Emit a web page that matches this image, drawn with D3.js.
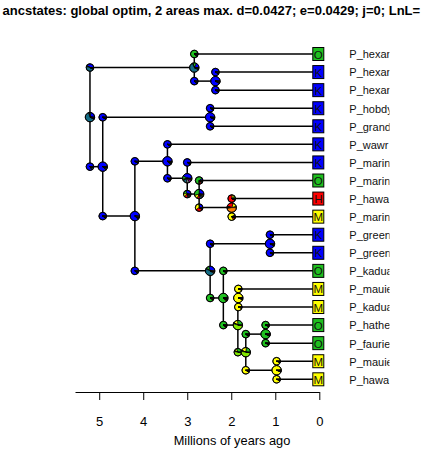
<!DOCTYPE html>
<html>
<head>
<meta charset="utf-8">
<script src="https://cdn.jsdelivr.net/npm/d3@7"></script>
<style>
  body { margin: 0; background: #fff; }
  svg { display: block; font-family: "Liberation Sans", Arial, sans-serif; }
</style>
</head>
<body>
<svg id="chart" width="423" height="459"></svg>
<script>
// tips, top to bottom (names as far as the plot shows them)
var tipNames = ["P_hexar", "P_hexar", "P_hexar", "P_hobdy", "P_grand", "P_wawr", "P_marini", "P_marini", "P_hawa",
    "P_marini", "P_green", "P_green", "P_kadua", "P_mauie", "P_kadua", "P_hathe", "P_faurie", "P_mauie", "P_hawa"];
var tipAreas = ["O", "K", "K", "K", "K", "K", "K", "O", "H", "M", "K", "K", "O", "M", "M", "O", "O", "M", "M"];

// ranges (state order used by the pies) and their colours
var states = ["K", "O", "M", "H", "KO", "KM", "KH", "OM", "OH", "MH"];
var stateColors = ["#0000ff", "#1fbf1f", "#ffff00", "#ff0000", "#146c84", "#808080", "#800080", "#80e600", "#806600", "#ff8000"];

// internal nodes: age in Ma and the two children (tN = tip N)
var nodeIds  = ["A", "C", "D", "B", "E", "F", "G", "H", "I", "J", "K", "L", "M", "N", "O", "P", "Q", "R"];
var nodeAges = [5.21, 2.84, 2.36, 4.92, 2.48, 4.19, 3.45, 3.00, 2.73, 1.99, 2.48, 1.12, 2.18, 1.85, 1.84, 1.67, 1.22, 0.97];
var nodeKids = [["C", "B"], ["t0", "D"], ["t1", "t2"], ["E", "F"], ["t3", "t4"], ["G", "K"], ["t5", "H"], ["t6", "I"],
    ["t7", "J"], ["t8", "t9"], ["L", "M"], ["t10", "t11"], ["t12", "N"], ["O", "P"], ["t13", "t14"], ["Q", "R"],
    ["t15", "t16"], ["t17", "t18"]];

// state probabilities: at the start of the upper child branch, at the node, at the start of the lower child branch
var piesUpper = [
    [0.40, 0.04, 0.01, 0.01, 0.46, 0.02, 0.02, 0.02, 0.01, 0.01],
    [0.06, 0.82, 0.01, 0.01, 0.05, 0.01, 0.01, 0.01, 0.01, 0.01],
    [0.92, 0.01, 0.01, 0.01, 0.02, 0.01, 0.01, 0.005, 0.005, 0.005],
    [0.90, 0.01, 0.01, 0.01, 0.03, 0.01, 0.01, 0.01, 0.005, 0.005],
    [0.92, 0.01, 0.01, 0.01, 0.02, 0.01, 0.01, 0.005, 0.005, 0.005],
    [0.90, 0.01, 0.01, 0.01, 0.03, 0.01, 0.01, 0.01, 0.005, 0.005],
    [0.90, 0.01, 0.01, 0.01, 0.03, 0.01, 0.01, 0.01, 0.005, 0.005],
    [0.88, 0.02, 0.01, 0.01, 0.03, 0.01, 0.01, 0.01, 0.01, 0.01],
    [0.10, 0.64, 0.03, 0.10, 0.05, 0.01, 0.02, 0.02, 0.02, 0.01],
    [0.02, 0.10, 0.12, 0.68, 0.01, 0.01, 0.02, 0.01, 0.01, 0.02],
    [0.88, 0.02, 0.01, 0.01, 0.03, 0.01, 0.01, 0.01, 0.01, 0.01],
    [0.92, 0.01, 0.01, 0.01, 0.02, 0.01, 0.01, 0.005, 0.005, 0.005],
    [0.03, 0.86, 0.02, 0.01, 0.03, 0.01, 0.01, 0.02, 0.005, 0.005],
    [0.01, 0.03, 0.88, 0.01, 0.01, 0.01, 0.01, 0.03, 0.005, 0.005],
    [0.01, 0.02, 0.91, 0.01, 0.01, 0.01, 0.01, 0.01, 0.005, 0.005],
    [0.03, 0.84, 0.03, 0.01, 0.02, 0.01, 0.01, 0.03, 0.01, 0.01],
    [0.02, 0.90, 0.01, 0.01, 0.02, 0.01, 0.01, 0.01, 0.005, 0.005],
    [0.01, 0.02, 0.91, 0.01, 0.01, 0.01, 0.01, 0.01, 0.005, 0.005]
];
var piesNode = [
    [0.22, 0.06, 0.01, 0.01, 0.62, 0.02, 0.02, 0.02, 0.01, 0.01],
    [0.18, 0.12, 0.01, 0.01, 0.60, 0.02, 0.01, 0.03, 0.01, 0.01],
    [0.92, 0.01, 0.01, 0.01, 0.02, 0.01, 0.01, 0.005, 0.005, 0.005],
    [0.88, 0.01, 0.01, 0.01, 0.05, 0.01, 0.01, 0.01, 0.005, 0.005],
    [0.92, 0.01, 0.01, 0.01, 0.02, 0.01, 0.01, 0.005, 0.005, 0.005],
    [0.88, 0.02, 0.01, 0.01, 0.03, 0.01, 0.01, 0.01, 0.01, 0.01],
    [0.88, 0.02, 0.01, 0.01, 0.03, 0.01, 0.01, 0.01, 0.01, 0.01],
    [0.42, 0.12, 0.03, 0.02, 0.12, 0.12, 0.10, 0.03, 0.02, 0.02],
    [0.25, 0.30, 0.14, 0.10, 0.06, 0.04, 0.03, 0.04, 0.02, 0.02],
    [0.02, 0.03, 0.15, 0.26, 0.01, 0.01, 0.02, 0.01, 0.02, 0.47],
    [0.30, 0.10, 0.02, 0.01, 0.48, 0.04, 0.01, 0.02, 0.01, 0.01],
    [0.92, 0.01, 0.01, 0.01, 0.02, 0.01, 0.01, 0.005, 0.005, 0.005],
    [0.04, 0.82, 0.04, 0.01, 0.03, 0.01, 0.01, 0.03, 0.005, 0.005],
    [0.01, 0.25, 0.15, 0.01, 0.01, 0.01, 0.01, 0.53, 0.01, 0.01],
    [0.01, 0.02, 0.91, 0.01, 0.01, 0.01, 0.01, 0.01, 0.005, 0.005],
    [0.01, 0.22, 0.20, 0.01, 0.01, 0.01, 0.01, 0.51, 0.01, 0.01],
    [0.02, 0.90, 0.01, 0.01, 0.02, 0.01, 0.01, 0.01, 0.005, 0.005],
    [0.01, 0.02, 0.91, 0.01, 0.01, 0.01, 0.01, 0.01, 0.005, 0.005]
];
var piesLower = [
    [0.84, 0.01, 0.01, 0.01, 0.08, 0.01, 0.01, 0.01, 0.01, 0.01],
    [0.88, 0.01, 0.01, 0.01, 0.05, 0.01, 0.01, 0.01, 0.005, 0.005],
    [0.92, 0.01, 0.01, 0.01, 0.02, 0.01, 0.01, 0.005, 0.005, 0.005],
    [0.90, 0.01, 0.01, 0.01, 0.03, 0.01, 0.01, 0.01, 0.005, 0.005],
    [0.92, 0.01, 0.01, 0.01, 0.02, 0.01, 0.01, 0.005, 0.005, 0.005],
    [0.88, 0.02, 0.01, 0.01, 0.03, 0.01, 0.01, 0.01, 0.01, 0.01],
    [0.88, 0.02, 0.01, 0.01, 0.03, 0.01, 0.01, 0.01, 0.01, 0.01],
    [0.32, 0.16, 0.15, 0.15, 0.05, 0.06, 0.04, 0.03, 0.02, 0.02],
    [0.22, 0.05, 0.33, 0.30, 0.02, 0.02, 0.02, 0.01, 0.01, 0.02],
    [0.08, 0.02, 0.74, 0.10, 0.01, 0.01, 0.01, 0.01, 0.01, 0.01],
    [0.05, 0.84, 0.03, 0.01, 0.02, 0.01, 0.01, 0.01, 0.01, 0.01],
    [0.92, 0.01, 0.01, 0.01, 0.02, 0.01, 0.01, 0.005, 0.005, 0.005],
    [0.03, 0.84, 0.04, 0.01, 0.02, 0.01, 0.01, 0.02, 0.01, 0.01],
    [0.01, 0.30, 0.12, 0.01, 0.01, 0.01, 0.01, 0.51, 0.01, 0.01],
    [0.01, 0.02, 0.91, 0.01, 0.01, 0.01, 0.01, 0.01, 0.005, 0.005],
    [0.01, 0.03, 0.88, 0.01, 0.01, 0.01, 0.01, 0.03, 0.005, 0.005],
    [0.02, 0.90, 0.01, 0.01, 0.02, 0.01, 0.01, 0.01, 0.005, 0.005],
    [0.01, 0.02, 0.91, 0.01, 0.01, 0.01, 0.01, 0.01, 0.005, 0.005]
];

var xTicks = [5, 4, 3, 2, 1, 0];
var titleText = "ancstates: global optim, 2 areas max. d=0.0427; e=0.0429; j=0; LnL=";
var xLabel = "Millions of years ago";

var svg = d3.select("#chart");

var x = d3.scaleLinear().domain([5.55, 0]).range([75, 319.3]);
var yTip = d3.scaleLinear().domain([0, tipNames.length - 1]).range([54, 379.3]);
var color = d3.scaleOrdinal().domain(states).range(stateColors);

// positions of every node (tips + internal), node y = mean of children
var pos = {};
tipNames.forEach(function (n, i) { pos["t" + i] = {x: x(0), y: yTip(i)}; });
var idx = {};
nodeIds.forEach(function (id, i) { idx[id] = i; });
function place(id) {
    if (pos[id]) return pos[id];
    var i = idx[id];
    var a = place(nodeKids[i][0]), b = place(nodeKids[i][1]);
    pos[id] = {x: x(nodeAges[i]), y: (a.y + b.y) / 2};
    return pos[id];
}
place("A");

// title
svg.append("text")
    .attr("x", 2.5).attr("y", 15)
    .attr("font-size", "13px").attr("font-weight", "bold")
    .attr("fill", "#000")
    .text(titleText);

// branches
var edges = svg.append("g").attr("stroke", "#000").attr("stroke-width", 1.5).attr("fill", "none");
nodeIds.forEach(function (id, i) {
    var p = pos[id], a = pos[nodeKids[i][0]], b = pos[nodeKids[i][1]];
    edges.append("line").attr("x1", p.x).attr("x2", p.x).attr("y1", a.y).attr("y2", b.y);
    [a, b].forEach(function (c) {
        edges.append("line").attr("x1", p.x).attr("x2", c.x).attr("y1", c.y).attr("y2", c.y);
    });
});

// tip range boxes
var boxes = svg.append("g");
tipAreas.forEach(function (a, i) {
    var p = pos["t" + i];
    boxes.append("rect")
        .attr("x", p.x - 6.5).attr("y", p.y - 6.5)
        .attr("width", 11).attr("height", 13)
        .attr("fill", color(a)).attr("stroke", "#000").attr("stroke-width", 1);
    boxes.append("text")
        .attr("x", p.x - 1).attr("y", p.y + 0.5)
        .attr("dy", "0.35em").attr("text-anchor", "middle")
        .attr("font-size", "11.5px").attr("fill", "#111")
        .text(a);
});

// tip labels, cut at the plot edge
svg.append("clipPath").attr("id", "labclip")
    .append("rect").attr("x", 340).attr("y", 40).attr("width", 49.5).attr("height", 350);
svg.append("g").attr("clip-path", "url(#labclip)")
    .selectAll("text").data(tipNames).join("text")
    .attr("x", 349.3)
    .attr("y", function (d, i) { return yTip(i) + 0.5; })
    .attr("dy", "0.35em")
    .attr("font-size", "11px").attr("fill", "#111")
    .text(function (d) { return d; });

// pies (R style: start at 3 o'clock, counter-clockwise)
var pie = d3.pie().sort(null).value(function (d) { return d; })
    .startAngle(Math.PI / 2).endAngle(Math.PI / 2 - 2 * Math.PI);
function drawPie(cx, cy, r, probs) {
    var g = svg.append("g").attr("transform", "translate(" + cx + "," + cy + ")");
    var arc = d3.arc().innerRadius(0).outerRadius(r);
    g.selectAll("path").data(pie(probs)).join("path")
        .attr("d", arc)
        .attr("fill", function (d, k) { return stateColors[k]; })
        .attr("stroke", "#000").attr("stroke-width", 0.7);
    g.append("circle").attr("r", r).attr("fill", "none").attr("stroke", "#000").attr("stroke-width", 1);
}
nodeIds.forEach(function (id, i) {
    var p = pos[id], a = pos[nodeKids[i][0]], b = pos[nodeKids[i][1]];
    drawPie(p.x, a.y, 3.8, piesUpper[i]);
    drawPie(p.x, b.y, 3.8, piesLower[i]);
    drawPie(p.x, p.y, 4.7, piesNode[i]);
});

// time axis
var axis = svg.append("g")
    .attr("transform", "translate(0,392)")
    .call(d3.axisBottom(x).tickValues(xTicks).tickSize(8).tickSizeOuter(0).tickPadding(17).tickFormat(d3.format("d")));
axis.selectAll("path,line").attr("stroke", "#000").attr("stroke-width", 1);
axis.selectAll("text").attr("font-size", "13px").attr("fill", "#000")
    .attr("font-family", "Liberation Sans, Arial, sans-serif");

svg.append("text")
    .attr("x", 232).attr("y", 445)
    .attr("text-anchor", "middle")
    .attr("font-size", "12.8px").attr("fill", "#000")
    .text(xLabel);
</script>
</body>
</html>
